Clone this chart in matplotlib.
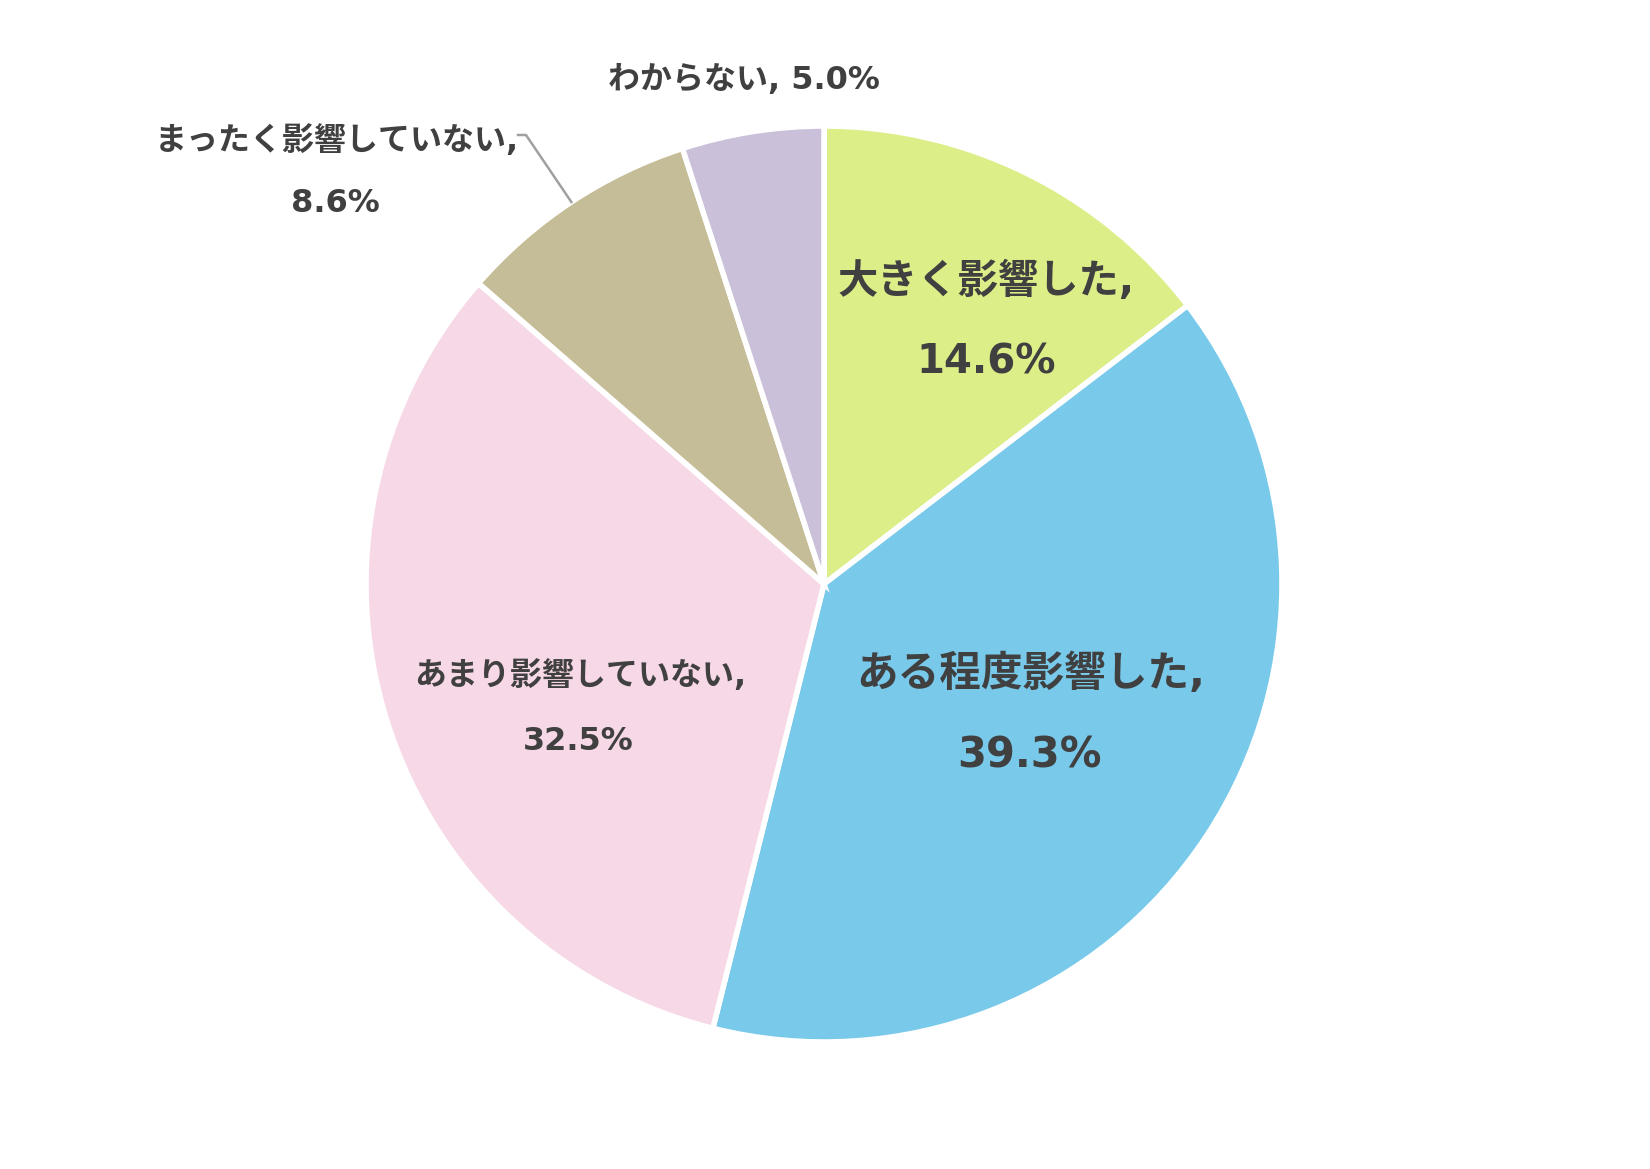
import numpy as np
import matplotlib
matplotlib.use("Agg")
import matplotlib.pyplot as plt

# DejaVu gives the wide Verdana-like digits, CJK glyphs fall back to Noto
plt.rcParams['font.family'] = ['DejaVu Sans', 'Noto Sans CJK JP']

# data
categories = ['大きく影響した', 'ある程度影響した', 'あまり影響していない', 'まったく影響していない', 'わからない']
values = [14.6, 39.3, 32.5, 8.6, 5.0]
colors = ['#DCEE87', '#78C9EA', '#F7D8E6', '#C4BD97', '#CBC0DA']

# label layout (pixel coords from top-left): name line, value line, font size
label_pos = [
    ((986, 282), (986, 363), 29),
    ((1031, 674), (1029, 756), 30),
    ((580, 676), (578, 741), 23),
    ((337, 141), (335, 203), 23),
    ((744, 80), None, 23),
]

W, H = 1650, 1169
cx, cy, r = 824, 584, 458

fig = plt.figure(figsize=(W / 100, H / 100), dpi=100)
ax = fig.add_axes([0, 0, 1, 1])

wedges, _ = ax.pie(values, colors=colors, startangle=90, counterclock=False,
                   center=(cx, H - cy), radius=r,
                   wedgeprops=dict(edgecolor='white', linewidth=4))
ax.set_xlim(0, W)
ax.set_ylim(0, H)
ax.axis('off')

txt_color = '#404040'
for i, (name, val) in enumerate(zip(categories, values)):
    p1, p2, fs = label_pos[i]
    if p2 is None:
        ax.text(p1[0], H - p1[1], f'{name}, {val:.1f}%', ha='center', va='center',
                fontsize=fs, fontweight='bold', color=txt_color)
    else:
        ax.text(p1[0], H - p1[1], f'{name},', ha='center', va='center',
                fontsize=fs, fontweight='bold', color=txt_color)
        ax.text(p2[0], H - p2[1], f'{val:.1f}%', ha='center', va='center',
                fontsize=fs, fontweight='bold', color=txt_color)

# leader line for the small slice, ending at the wedge's mid angle on the edge
start = sum(values[:3])
mid = (start + values[3] / 2) / 100 * 2 * np.pi
ex = cx + r * np.sin(mid)
ey = cy - r * np.cos(mid)
ax.plot([518, 526, ex], [H - 135, H - 135, H - ey], color='#A0A0A0', linewidth=1.8)

fig.savefig('out.png', dpi=100, facecolor='white')
